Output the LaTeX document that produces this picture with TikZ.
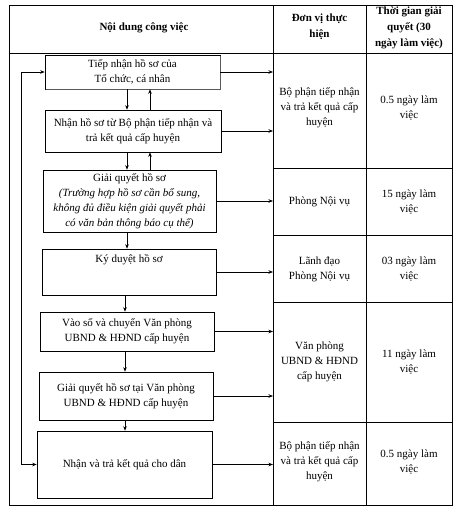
\documentclass[tikz,border=0pt]{standalone}
\usepackage{fontspec}
\setmainfont{Liberation Serif}
\usetikzlibrary{arrows.meta}
\begin{document}
\begin{tikzpicture}[x=1pt,y=-1pt,
  font=\fontsize{11}{15}\selectfont,
  line width=0.6pt,
  box/.style={draw, align=center, inner sep=0pt},
  arr/.style={-{Stealth[length=4.5pt,width=3.5pt]}},
  cell/.style={align=center, inner sep=0pt},
  head/.style={align=center, inner sep=0pt, font=\fontsize{11}{16}\selectfont\bfseries}]
\useasboundingbox (0,0) rectangle (459,514);
% table frame
\draw (9,5) rectangle (452,505);
\draw (9,53) -- (452,53);
\draw (273,5) -- (273,505);
\draw (366,5) -- (366,505);
\foreach \yy in {168,235,302,422} \draw (273,\yy) -- (452,\yy);
% headers
\node[head] (h1) at (144,28) {Nội dung công việc};
\node[head] (h2) at (319.5,27) {Đơn vị thực\\hiện};
\node[head] (h3) at (409,28) {Thời gian giải\\quyết (30\\ngày làm việc)};
% column 2 and 3 cells
\node[cell] (u1) at (319.5,108) {Bộ phận tiếp nhận\\và trả kết quả cấp\\huyện};
\node[cell] (t1) at (409,108) {0.5 ngày làm\\việc};
\node[cell] (u2) at (319.5,202) {Phòng Nội vụ};
\node[cell] (t2) at (409,202) {15 ngày làm\\việc};
\node[cell] (u3) at (319.5,269) {Lãnh đạo\\Phòng Nội vụ};
\node[cell] (t3) at (409,269) {03 ngày làm\\việc};
\node[cell] (u4) at (319.5,362) {Văn phòng\\UBND \& HĐND\\cấp huyện};
\node[cell] (t4) at (409,362) {11 ngày làm\\việc};
\node[cell] (u5) at (319.5,462) {Bộ phận tiếp nhận\\và trả kết quả cấp\\huyện};
\node[cell] (t5) at (409,462) {0.5 ngày làm\\việc};
% flow boxes
\node[box, minimum width=175pt, minimum height=34pt] (b1) at (132.5,72) {Tiếp nhận hồ sơ của\\Tổ chức, cá nhân};
\draw[line width=1.4pt, black!65] ([xshift=1pt]b1.south west) -- ([yshift=0pt]b1.south east) -- ([yshift=-1pt]b1.north east);
\node[box, minimum width=176pt, minimum height=42pt] (b2) at (133,131) {Nhận hồ sơ từ Bộ phận tiếp nhận và\\trả kết quả cấp huyện};
\node[box, minimum width=173pt, minimum height=62pt] (b3) at (129.5,201) {Giải quyết hồ sơ\\\textit{(Trường hợp hồ sơ cần bổ sung,}\\\textit{không đủ điều kiện giải quyết phải}\\\textit{có văn bản thông báo cụ thể)}};
\node[box, minimum width=174pt, minimum height=46pt,
  label={[anchor=north, inner sep=0pt, yshift=-6pt]north:Ký duyệt hồ sơ}] (b4) at (129,272) {};
\node[box, minimum width=174pt, minimum height=39pt] (b5) at (127,331.5) {Vào số và chuyển Văn phòng\\UBND \& HĐND cấp huyện};
\node[box, minimum width=174pt, minimum height=48pt] (b6) at (126,396) {Giải quyết hồ sơ tại Văn phòng\\UBND \& HĐND cấp huyện};
\node[box, minimum width=175pt, minimum height=67pt] (b7) at (124.5,464.5) {Nhận và trả kết quả cho dân};
% helper coordinates
\coordinate (cA) at (273,0);
\coordinate (xd) at (127,0);
\coordinate (xu) at (150,0);
\coordinate (xe) at (125,0);
\coordinate (fb) at (21,270);
% vertical flow
\draw[arr] (b1.south -| xd) -- (b2.north -| xd);
\draw[arr] (b2.north -| xu) -- (b1.south -| xu);
\draw[arr] (b2.south -| xd) -- (b3.north -| xd);
\draw[arr] (b3.north -| xu) -- (b2.south -| xu);
\draw[arr] (b3.south -| xd) -- (b4.north -| xd);
\draw[arr] (b4.south -| xe) -- (b5.north -| xe);
\draw[arr] (b5.south -| xe) -- (b6.north -| xe);
\draw[arr] (b6.south -| xe) -- (b7.north -| xe);
% arrows to units column
\foreach \b in {b1,b2,b3,b4,b5,b6,b7}
  \draw[arr] (\b.east) -- (\b.east -| cA);
% feedback loop
\draw[arr] (fb) |- (b1.west);
\draw[arr] (fb) |- (b7.west);
\end{tikzpicture}
\end{document}
